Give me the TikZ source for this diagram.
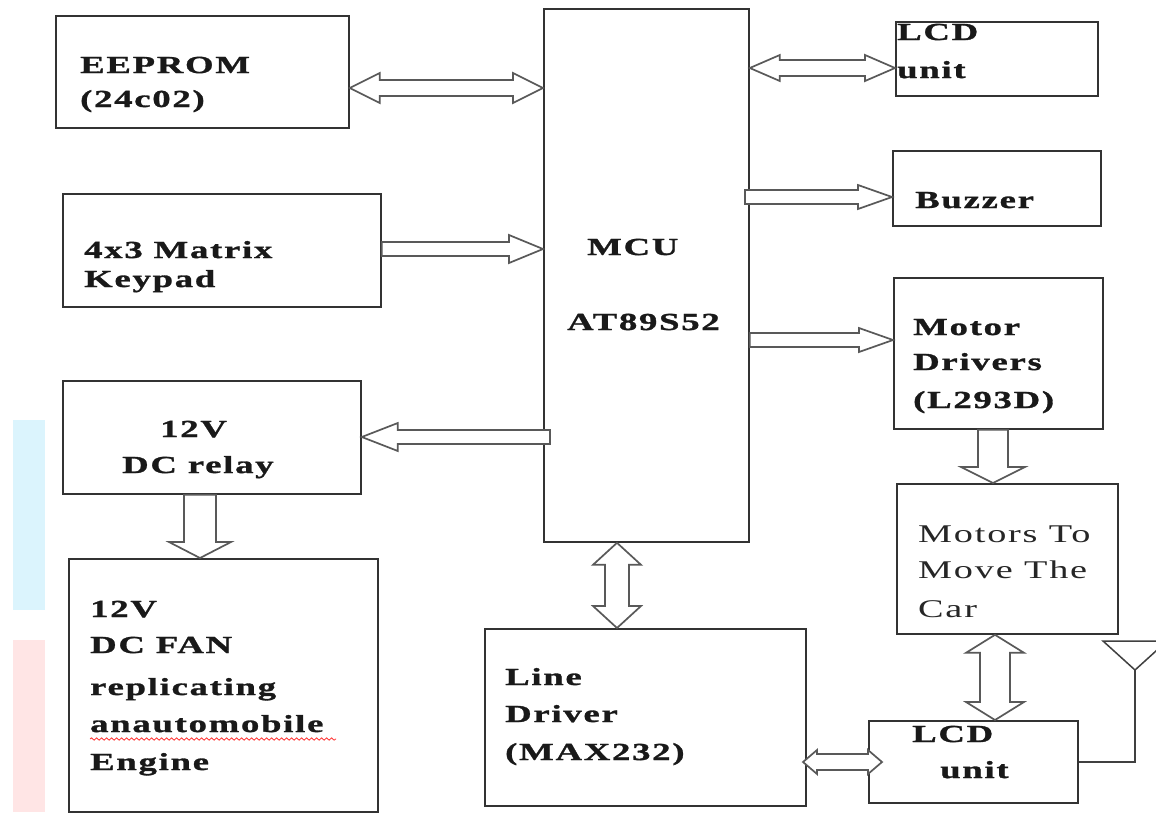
\documentclass[tikz,border=0pt]{standalone}
\usepackage{fontspec}
\setmainfont{Liberation Serif}[FakeStretch=1.5, LetterSpace=7, BoldFeatures={FakeBold=1.2}]
\usetikzlibrary{calc,decorations.pathmorphing}
\tikzset{
  box/.style={draw=black!80, line width=1.8pt, fill=none, rectangle, inner sep=0pt, anchor=north west},
  lbl/.style={anchor=base west, inner sep=0pt, font=\bfseries\fontsize{24.5}{24.5}\selectfont, text=black!90},
  rlbl/.style={anchor=base west, inner sep=0pt, font=\fontsize{25.5}{25.5}\selectfont, text=black!85},
  arr/.style={draw=black!65, line width=1.7pt, fill=white, line join=miter},
  wire/.style={draw=black!75, line width=1.5pt},
}
% box: name, x1, y1, x2, y2
\newcommand\bx[5]{\node[box, minimum width={#4pt-#2pt}, minimum height={#5pt-#3pt}] (#1) at (#2,#3) {};}
% single hollow arrow: from, to, half shaft, half head, head length
\newcommand\sarr[5]{%
\draw[arr] ($(#1)!#3pt!90:(#2)$) -- ($(#2)!#5pt!(#1)!#3pt!-90:(#1)$) -- ($(#2)!#5pt!(#1)!#4pt!-90:(#1)$) -- (#2) -- ($(#2)!#5pt!(#1)!#4pt!90:(#1)$) -- ($(#2)!#5pt!(#1)!#3pt!90:(#1)$) -- ($(#1)!#3pt!-90:(#2)$) -- cycle;}
% double hollow arrow
\newcommand\darr[5]{%
\draw[arr] (#1) -- ($(#1)!#5pt!(#2)!#4pt!90:(#2)$) -- ($(#1)!#5pt!(#2)!#3pt!90:(#2)$) -- ($(#2)!#5pt!(#1)!#3pt!-90:(#1)$) -- ($(#2)!#5pt!(#1)!#4pt!-90:(#1)$) -- (#2) -- ($(#2)!#5pt!(#1)!#4pt!90:(#1)$) -- ($(#2)!#5pt!(#1)!#3pt!90:(#1)$) -- ($(#1)!#5pt!(#2)!#3pt!-90:(#2)$) -- ($(#1)!#5pt!(#2)!#4pt!-90:(#2)$) -- cycle;}
\begin{document}
\begin{tikzpicture}[x=1pt,y=-1pt]
\useasboundingbox (0,0) rectangle (1156,812);
\clip (0,0) rectangle (1156,812);
\fill[white] (0,0) rectangle (1156,812);
% faint side bands
\fill[cyan!14] (13,420) rectangle (45,610);
\fill[red!10] (13,640) rectangle (45,812);
% boxes
\bx{eeprom}{55}{15}{348}{127}
\bx{keypad}{62}{193}{380}{306}
\bx{relay}{62}{380}{360}{493}
\bx{fan}{68}{558}{377}{811}
\bx{mcu}{543}{8}{748}{541}
\bx{line}{484}{628}{805}{805}
\bx{lcdt}{895}{21}{1097}{95}
\bx{buzz}{892}{150}{1100}{225}
\bx{mdrv}{893}{277}{1102}{428}
\bx{motors}{896}{483}{1117}{633}
\bx{lcdb}{868}{720}{1077}{802}
% texts
\node[lbl] (t1) at (80,73) {EEPROM};
\node[lbl] (t2) at (80,107) {(24c02)};
\node[lbl] (t3) at (84,258) {4x3 Matrix};
\node[lbl] (t4) at (84,287) {Keypad};
\node[lbl] (t5) at (587,255) {MCU};
\node[lbl] (t6) at (567,330) {AT89S52};
\node[lbl] (t7) at (160,437) {12V};
\node[lbl] (t8) at (122,473) {DC relay};
\node[lbl] (t9) at (90,617) {12V};
\node[lbl] (t10) at (90,653) {DC FAN};
\node[lbl] (t11) at (90,695) {replicating};
\node[lbl] (t12) at (90,732) {anautomobile};
\node[lbl] (t13) at (90,770) {Engine};
\node[lbl] (t14) at (505,685) {Line};
\node[lbl] (t15) at (505,722) {Driver};
\node[lbl] (t16) at (505,760) {(MAX232)};
\node[lbl] (t17) at (897,40) {LCD};
\node[lbl] (t18) at (897,78) {unit};
\node[lbl] (t19) at (915,208) {Buzzer};
\node[lbl] (t20) at (913,335) {Motor};
\node[lbl] (t21) at (913,370) {Drivers};
\node[lbl] (t22) at (913,408) {(L293D)};
\node[rlbl] (t23) at (918,542) {Motors To};
\node[rlbl] (t24) at (918,578) {Move The};
\node[rlbl] (t25) at (918,617) {Car};
\node[lbl] (t26) at (912,742) {LCD};
\node[lbl] (t27) at (940,778) {unit};
% spell-check squiggle
\draw[red!80, line width=0.8pt, decorate, decoration={snake, amplitude=1.2pt, segment length=5pt}] (90,739) -- (336,739);
% arrow end points
\coordinate (a1s) at (eeprom.east |- 0,88);
\coordinate (a1e) at (mcu.west |- 0,88);
\coordinate (a2s) at (keypad.east |- 0,249);
\coordinate (a2e) at (mcu.west |- 0,249);
\coordinate (a3s) at (mcu.east |- 0,68);
\coordinate (a3e) at (lcdt.west |- 0,68);
\coordinate (a4s) at (745,197);
\coordinate (a4e) at (buzz.west |- 0,197);
\coordinate (a5s) at (mcu.east |- 0,340);
\coordinate (a5e) at (mdrv.west |- 0,340);
\coordinate (a6s) at (550,437);
\coordinate (a6e) at (relay.east |- 0,437);
\coordinate (a7s) at (relay.south -| 200,0);
\coordinate (a7e) at (fan.north -| 200,0);
\coordinate (a8s) at (mdrv.south -| 993,0);
\coordinate (a8e) at (motors.north -| 993,0);
\coordinate (a9s) at (mcu.south -| 617,0);
\coordinate (a9e) at (line.north -| 617,0);
\coordinate (a10s) at (motors.south -| 995,0);
\coordinate (a10e) at (lcdb.north -| 995,0);
\coordinate (a11s) at (803,762);
\coordinate (a11e) at (882,762);
\darr{a1s}{a1e}{8}{15}{30}
\sarr{a2s}{a2e}{7}{14}{34}
\darr{a3s}{a3e}{8}{13}{30}
\sarr{a4s}{a4e}{7}{12}{34}
\sarr{a5s}{a5e}{7}{12}{34}
\sarr{a6s}{a6e}{7}{14}{36}
\sarr{a7s}{a7e}{16}{31}{16}
\sarr{a8s}{a8e}{15}{32}{16}
\darr{a9s}{a9e}{12}{24}{22}
\darr{a10s}{a10e}{15}{29}{18}
\darr{a11s}{a11e}{8}{12}{14}
% antenna
\coordinate (ant) at (1135,670);
\draw[wire] (1103,641) -- (ant) -- (1167,641) -- cycle;
\draw[wire] (ant) -- (ant |- lcdb.east) -- (lcdb.east);
\end{tikzpicture}
\end{document}
